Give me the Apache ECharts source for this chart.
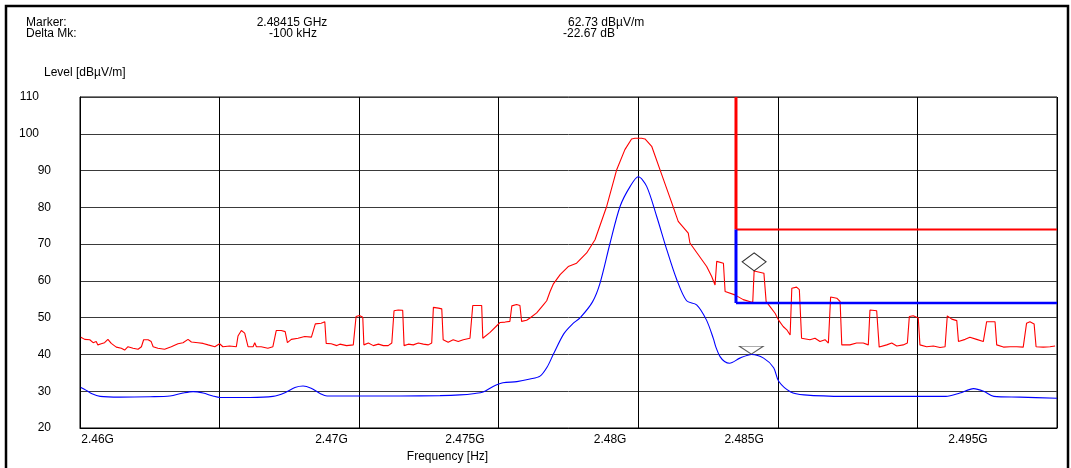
<!DOCTYPE html>
<html>
<head>
<meta charset="utf-8">
<script src="https://cdn.jsdelivr.net/npm/echarts@6/dist/echarts.min.js"></script>
<style>html,body{margin:0;padding:0;background:#fff}#c{width:1071px;height:468px}</style>
</head>
<body>
<div id="c"></div>
<script>
// Frequencies in MHz, levels in dBµV/m
const peakFreq = [2460.03,2460.17,2460.35,2460.47,2460.58,2460.64,2460.76,2460.88,2461.00,2461.12,2461.30,2461.48,2461.60,2461.72,2461.90,2462.08,2462.20,2462.28,2462.44,2462.55,2462.62,2462.79,2463.03,2463.27,2463.51,2463.69,2463.87,2463.99,2464.23,2464.41,2464.59,2464.83,2465.00,2465.12,2465.36,2465.60,2465.66,2465.78,2465.90,2466.02,2466.20,2466.26,2466.32,2466.49,2466.73,2466.91,2467.03,2467.21,2467.35,2467.43,2467.57,2467.81,2468.05,2468.29,2468.43,2468.64,2468.77,2468.82,2469.00,2469.20,2469.31,2469.55,2469.79,2469.89,2470.01,2470.13,2470.17,2470.33,2470.51,2470.69,2470.87,2471.04,2471.17,2471.25,2471.40,2471.56,2471.61,2471.76,2471.94,2472.12,2472.30,2472.48,2472.60,2472.66,2472.84,2472.96,2473.01,2473.19,2473.37,2473.55,2473.73,2473.97,2474.07,2474.21,2474.39,2474.43,2474.69,2474.93,2475.05,2475.23,2475.40,2475.47,2475.64,2475.76,2475.82,2476.00,2476.12,2476.36,2476.42,2476.60,2476.72,2476.84,2476.96,2477.20,2477.49,2477.79,2478.15,2478.45,2478.87,2479.23,2479.52,2479.76,2479.88,2480.12,2480.24,2480.48,2480.84,2481.20,2481.43,2481.79,2481.85,2482.15,2482.45,2482.63,2482.75,2482.81,2483.05,2483.11,2483.46,2483.76,2484.10,2484.15,2484.50,2484.58,2484.72,2484.90,2485.02,2485.19,2485.32,2485.44,2485.50,2485.67,2485.77,2485.85,2486.15,2486.33,2486.51,2486.69,2486.81,2486.89,2487.11,2487.23,2487.29,2487.58,2487.82,2488.06,2488.24,2488.30,2488.54,2488.63,2488.90,2489.08,2489.26,2489.49,2489.64,2489.71,2489.85,2490.03,2490.09,2490.33,2490.57,2490.81,2490.99,2491.07,2491.23,2491.41,2491.47,2491.71,2491.88,2492.12,2492.36,2492.48,2492.78,2492.84,2493.08,2493.32,2493.56,2493.79,2493.91,2494.03,2494.18,2494.25,2494.51,2494.75,2494.93];
const peakLevel = [44.7,44.1,44.0,43.2,43.5,42.6,42.9,43.2,44.1,43.0,42.0,41.7,41.2,42.1,41.7,41.4,42.1,44.0,44.0,43.5,42.1,41.7,41.4,42.1,42.9,43.2,44.1,43.4,43.2,43.0,42.6,42.1,42.9,42.1,42.3,42.1,45.0,46.5,45.8,42.1,42.1,43.2,42.1,42.1,41.7,42.1,46.5,46.5,46.2,43.2,44.1,44.4,44.9,44.7,48.3,48.5,48.9,43.0,42.9,42.4,42.8,42.4,42.6,50.3,50.6,50.1,42.6,43.1,42.4,42.8,42.4,42.4,43.1,51.9,52.1,52.0,42.4,42.8,42.6,43.1,42.8,42.6,43.1,52.8,52.6,52.4,44.0,43.3,44.0,43.5,44.0,44.4,53.3,53.3,53.3,44.4,46.0,47.8,48.7,48.8,49.0,53.2,53.6,53.3,49.0,49.3,49.9,51.3,51.7,53.5,54.6,57.1,59.2,61.7,63.9,64.8,67.6,71.2,80.3,90.3,95.7,98.6,98.8,98.8,98.6,96.6,88.9,81.2,76.2,73.0,70.3,67.1,63.9,61.2,58.9,65.3,64.8,57.1,56.2,54.9,54.1,62.7,62.1,54.4,53.0,51.2,49.4,47.6,46.7,45.3,58.0,58.3,57.6,44.4,44.0,44.4,43.5,44.0,43.1,55.6,55.3,54.4,42.6,42.6,43.1,43.1,42.6,52.1,51.9,42.0,42.6,43.1,42.3,42.6,43.1,50.3,50.5,49.9,42.6,42.1,42.3,41.9,42.1,50.5,49.6,49.2,43.5,44.1,44.7,44.1,43.5,48.9,48.9,42.6,42.0,42.1,42.1,42.0,48.5,48.9,48.3,42.1,42.0,42.1,42.3];
const avgFreq = [2460.03,2460.21,2460.43,2460.72,2461.43,2462.51,2463.22,2463.69,2464.05,2464.41,2464.76,2465.02,2466.09,2466.91,2467.34,2467.70,2467.99,2468.28,2468.60,2468.85,2470.03,2471.46,2472.90,2473.61,2474.15,2474.44,2474.80,2475.15,2475.65,2476.12,2476.48,2476.73,2476.96,2477.33,2477.63,2477.93,2478.36,2478.63,2478.99,2479.35,2479.71,2480.00,2480.30,2480.66,2481.02,2481.38,2481.73,2482.09,2482.44,2482.69,2482.78,2482.93,2483.09,2483.27,2483.64,2484.06,2484.49,2484.85,2485.03,2485.46,2485.94,2487.41,2491.02,2491.52,2492.01,2492.37,2492.74,2493.67,2495.00];
const avgLevel = [31.0,30.3,29.3,28.6,28.4,28.5,28.7,29.5,29.9,29.5,28.7,28.3,28.3,28.6,29.6,31.0,31.4,30.8,29.4,28.7,28.7,28.7,28.8,29.0,29.4,29.8,31.3,32.3,32.6,33.3,34.1,36.5,40.1,45.6,48.2,50.1,54.3,59.4,70.3,80.3,85.7,88.3,85.7,77.5,68.5,60.3,54.6,53.5,49.4,44.3,42.0,39.4,38.1,37.6,39.0,40.0,39.0,36.4,32.7,29.8,29.0,28.6,28.6,29.5,30.7,30.0,28.6,28.4,28.1];
// Limits
const limitStart = 2483.5, limitEnd = 2495, peakLimit = 74, avgLimit = 54, topLevel = 110;
// Markers
const markerFreq = 2484.15, markerLevel = 62.73;
const deltaFreq = 2484.05, deltaLevel = 40.06;
// Tick labels (placed where the reference shows them)
const tickLabels = ['2.46G','2.47G','2.475G','2.48G','2.485G','2.495G'];
const tickPos = [2460.63,2469.01,2473.79,2478.99,2483.79,2491.81];
const yTicks = [20,30,40,50,60,70,80,90,100,110];

const FONT = 'Liberation Sans, Arial, sans-serif';
const chart = echarts.init(document.getElementById('c'), null, {renderer:'canvas'});
const zip = (a,b) => a.map((v,i)=>[v,b[i]]);
const txt = (x,y,t,align) => ({type:'text', left:undefined, x:x, y:y, style:{text:t, fill:'#000', font:'12px '+FONT, textAlign:align||'left', textVerticalAlign:'middle'}, silent:true});

chart.setOption({
  animation:false,
  backgroundColor:'#fff',
  grid:{left:80, right:14, top:97, bottom:40, show:true, borderColor:'#000', borderWidth:1, backgroundColor:'transparent'},
  xAxis:[{
    type:'value', min:2460, max:2495, interval:5,
    axisLine:{show:true, lineStyle:{color:'#000', width:1}},
    axisTick:{show:false}, axisLabel:{show:false},
    splitLine:{show:true, lineStyle:{color:'#000', width:1}}
  },{
    type:'value', min:2460, max:2495, position:'bottom', offset:0,
    axisLine:{show:false}, axisTick:{show:false}, splitLine:{show:false},
    axisLabel:{show:true, customValues:tickPos, margin:6, color:'#000', fontSize:12, fontFamily:FONT,
      formatter:function(v){let bi=0,bd=1e9;tickPos.forEach((p,i)=>{const d=Math.abs(p-v);if(d<bd){bd=d;bi=i;}});return tickLabels[bi];}}
  }],
  yAxis:{
    type:'value', min:20, max:110, interval:10,
    axisLine:{show:true, lineStyle:{color:'#000', width:1}},
    axisTick:{show:false},
    splitLine:{show:true, lineStyle:{color:'#3a3a3a', width:1}},
    axisLabel:{margin:29, color:'#000', fontSize:12, fontFamily:FONT,
      formatter:function(v){return v>=100 ? '{w|'+v+'}' : String(v);},
      rich:{w:{padding:[0,12,0,0], fontSize:12, fontFamily:FONT, color:'#000'}}}
  },
  series:[
    {type:'line', data:zip(avgFreq,avgLevel), showSymbol:false, smooth:0.3, lineStyle:{color:'#0000ff', width:1.1}, z:3},
    {type:'line', data:zip(peakFreq,peakLevel), showSymbol:false, lineStyle:{color:'#ff0000', width:1.1}, z:4},
    {type:'line', data:[[limitStart,topLevel],[limitStart,peakLimit]], showSymbol:false, lineStyle:{color:'#ff0000', width:3}, z:5},
    {type:'line', data:[[limitStart,peakLimit],[limitEnd,peakLimit]], showSymbol:false, lineStyle:{color:'#ff0000', width:2}, z:5},
    {type:'line', data:[[limitStart,peakLimit],[limitStart,avgLimit]], showSymbol:false, lineStyle:{color:'#0000ff', width:3}, z:5},
    {type:'line', data:[[limitStart,avgLimit],[limitEnd,avgLimit]], showSymbol:false, lineStyle:{color:'#0000ff', width:2.5}, z:5},
    {type:'scatter', data:[[markerFreq,markerLevel]], symbol:'path://M12,0L24,9L12,18L0,9Z', symbolSize:[24,18], symbolOffset:[0,-9],
      itemStyle:{color:'#fff', borderColor:'#000', borderWidth:1}, z:6, silent:true},
    {type:'scatter', data:[[deltaFreq,deltaLevel]], symbol:'path://M0,0L24,0L12,8Z', symbolSize:[24,8], symbolOffset:[0,-4],
      itemStyle:{color:'rgba(255,255,255,0)', borderColor:'#333', borderWidth:1}, z:6, silent:true}
  ],
  graphic:[
    {type:'rect', shape:{x:6, y:6, width:1062, height:472}, style:{fill:'none', stroke:'#000', lineWidth:2.5}, silent:true, z:10},
    txt(26,22.5,'Marker:'), txt(26,33.5,'Delta Mk:'),
    txt(292,22.5,'2.48415 GHz','center'), txt(293,33.5,'-100 kHz','center'),
    txt(568,22.5,'62.73 dBµV/m'), txt(563,33.5,'-22.67 dB'),
    txt(44,73,'Level [dBµV/m]'),
    txt(447.5,457,'Frequency [Hz]','center')
  ]
});
</script>
</body>
</html>
